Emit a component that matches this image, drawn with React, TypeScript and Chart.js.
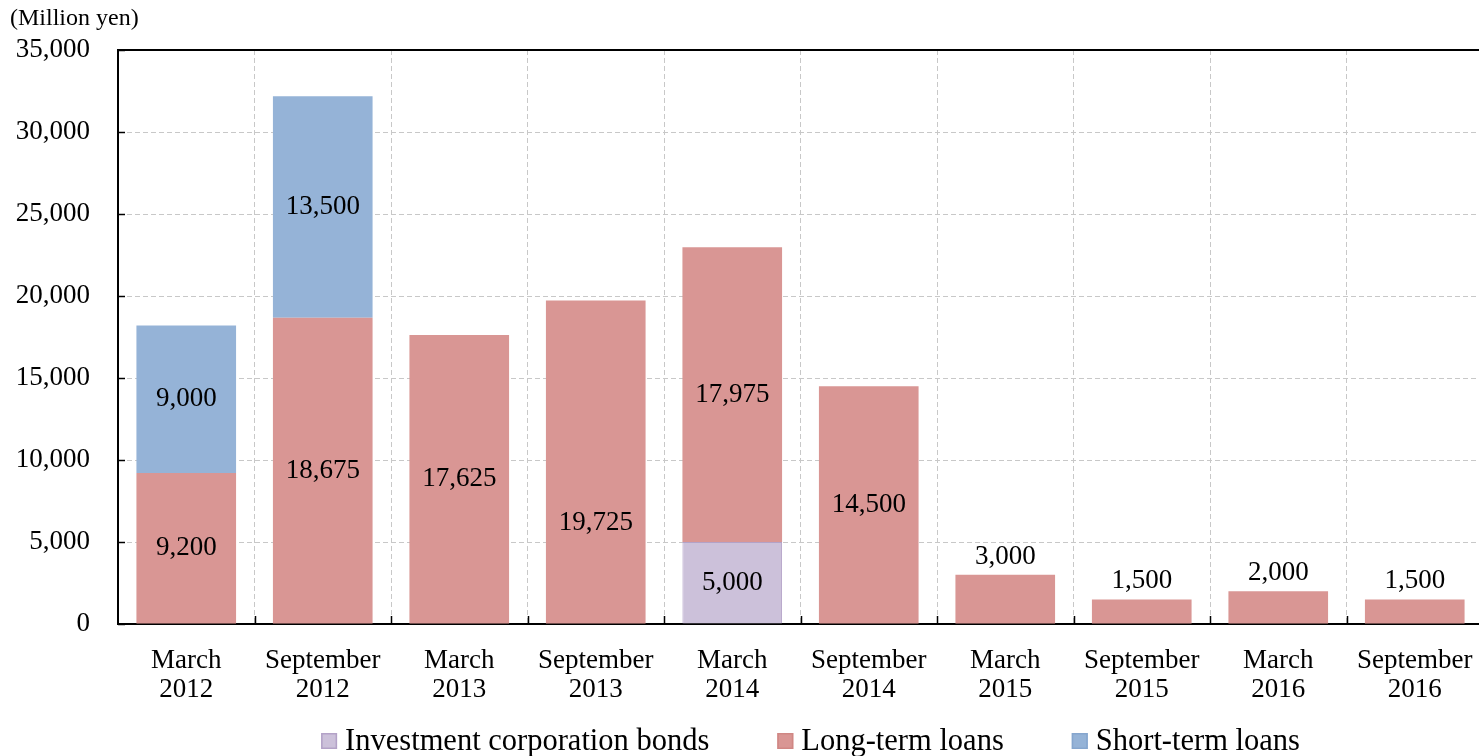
import React, { useEffect, useRef } from "react";
import { Chart, registerables } from "chart.js";

Chart.register(...registerables);

const categories: string[][] = [
  ["March", "2012"],
  ["September", "2012"],
  ["March", "2013"],
  ["September", "2013"],
  ["March", "2014"],
  ["September", "2014"],
  ["March", "2015"],
  ["September", "2015"],
  ["March", "2016"],
  ["September", "2016"],
];

const bonds: number[] = [0, 0, 0, 0, 5000, 0, 0, 0, 0, 0];
const longTermLoans: number[] = [9200, 18675, 17625, 19725, 17975, 14500, 3000, 1500, 2000, 1500];
const shortTermLoans: number[] = [9000, 13500, 0, 0, 0, 0, 0, 0, 0, 0];

const yTicks: number[] = [0, 5000, 10000, 15000, 20000, 25000, 30000, 35000];

const FONT = "'Liberation Serif', 'Times New Roman', serif";

const fmt = (v: number) => v.toLocaleString("en-US");

const decorPlugin = {
  id: "decor",
  afterDraw(chart: any) {
    const { ctx, chartArea } = chart;
    const x = chart.scales.x;
    const y = chart.scales.y;
    ctx.save();
    // top border
    ctx.strokeStyle = "#000";
    ctx.lineWidth = 2;
    ctx.beginPath();
    ctx.moveTo(chartArea.left, chartArea.top);
    ctx.lineTo(chartArea.right, chartArea.top);
    ctx.stroke();
    // inward ticks on y axis
    ctx.lineWidth = 1.5;
    yTicks.forEach((v) => {
      const py = Math.round(y.getPixelForValue(v)) + 0.5;
      ctx.beginPath();
      ctx.moveTo(chartArea.left, py);
      ctx.lineTo(chartArea.left + 7, py);
      ctx.stroke();
    });
    // inward ticks on x axis at category boundaries
    const n = categories.length;
    for (let i = 1; i < n; i++) {
      const px = Math.round((x.getPixelForValue(i - 1) + x.getPixelForValue(i)) / 2) + 0.5;
      ctx.beginPath();
      ctx.moveTo(px, chartArea.bottom);
      ctx.lineTo(px, chartArea.bottom - 8);
      ctx.stroke();
    }
    // unit label
    ctx.fillStyle = "#000";
    ctx.font = `24px ${FONT}`;
    ctx.textAlign = "left";
    ctx.textBaseline = "middle";
    ctx.fillText("(Million yen)", 10, chartArea.top - 31);

    // data labels
    ctx.font = `27px ${FONT}`;
    ctx.textAlign = "center";
    const offsets: Record<string, number> = chart.options.plugins.decor.offsets || {};
    chart.data.datasets.forEach((ds: any, di: number) => {
      const meta = chart.getDatasetMeta(di);
      meta.data.forEach((bar: any, i: number) => {
        const v = ds.data[i];
        if (!v) return;
        const h = Math.abs(bar.base - bar.y);
        let cy: number;
        if (h < 60) cy = bar.y - 18;
        else cy = (bar.y + bar.base) / 2;
        cy += offsets[`${di}-${i}`] || 0;
        ctx.fillText(fmt(v), bar.x, cy);
      });
    });

    // legend
    ctx.font = `30.5px ${FONT}`;
    ctx.textAlign = "left";
    const box = 16;
    const gapBoxText = 8;
    const gapItems = 68;
    const items = chart.data.datasets.map((ds: any) => ({
      label: ds.label as string,
      fill: ds.backgroundColor as string,
      stroke: ds.legendBorder as string,
      w: ctx.measureText(ds.label).width,
    }));
    const total =
      items.reduce((s: number, it: any) => s + box + gapBoxText + it.w, 0) + gapItems * (items.length - 1);
    let lx = (chartArea.left + chartArea.right) / 2 + 10 - total / 2;
    const ly = 741;
    items.forEach((it: any) => {
      ctx.fillStyle = it.fill;
      ctx.fillRect(lx, ly - box / 2, box, box);
      ctx.strokeStyle = it.stroke;
      ctx.lineWidth = 1.5;
      ctx.strokeRect(lx + 0.75, ly - box / 2 + 0.75, box - 1.5, box - 1.5);
      ctx.fillStyle = "#000";
      ctx.fillText(it.label, lx + box + gapBoxText, ly + 1);
      lx += box + gapBoxText + it.w + gapItems;
    });
    ctx.restore();
  },
};

export default function App() {
  const ref = useRef<HTMLCanvasElement | null>(null);
  useEffect(() => {
    if (!ref.current) return;
    const chart = new Chart(ref.current, {
      type: "bar",
      data: {
        labels: categories,
        datasets: [
          {
            label: "Investment corporation bonds",
            data: bonds,
            backgroundColor: "#CCC1DA",
            borderColor: "#B3A2C7",
            borderWidth: 1,
            legendBorder: "#B3A2C7",
          } as any,
          {
            label: "Long-term loans",
            data: longTermLoans,
            backgroundColor: "#D99694",
            borderColor: "#D99694",
            borderWidth: 0,
            legendBorder: "#D08784",
          } as any,
          {
            label: "Short-term loans",
            data: shortTermLoans,
            backgroundColor: "#95B3D7",
            borderColor: "#95B3D7",
            borderWidth: 0,
            legendBorder: "#86A6CE",
          } as any,
        ],
      },
      options: {
        responsive: false,
        animation: false,
        layout: { padding: { top: 50, right: 17, left: 0, bottom: 42 } },
        datasets: {
          bar: { barPercentage: 0.73, categoryPercentage: 1 },
        },
        scales: {
          x: {
            stacked: true,
            grid: {
              color: "#c8c8c8",
              lineWidth: 1,
              drawTicks: false,
              offset: true,
            },
            border: { color: "#000", width: 2, dash: [5, 3] },
            ticks: {
              color: "#000",
              font: { family: FONT, size: 27, lineHeight: 1.08 },
              padding: 22,
              maxRotation: 0,
              autoSkip: false,
            },
            afterFit: (s: any) => {
              s.height = 90;
            },
          },
          y: {
            stacked: true,
            min: 0,
            max: 35000,
            afterBuildTicks: (s: any) => {
              s.ticks = yTicks.map((v) => ({ value: v }));
            },
            grid: {
              color: "#c8c8c8",
              lineWidth: 1,
              drawTicks: false,
            },
            border: { color: "#000", width: 2, dash: [5, 3] },
            ticks: {
              color: "#000",
              font: { family: FONT, size: 27 },
              padding: 28,
              callback: (v: any) => fmt(Number(v)),
            },
            afterFit: (s: any) => {
              s.width = 118;
            },
          },
        },
        plugins: {
          legend: { display: false },
          tooltip: { enabled: false },
          decor: { offsets: { "1-3": 61 } },
        } as any,
      },
      plugins: [decorPlugin],
    });
    return () => chart.destroy();
  }, []);
  return (
    <div
      style={{
        position: "fixed",
        left: 0,
        top: 0,
        width: "100vw",
        height: "100vh",
        overflow: "hidden",
        background: "#fff",
      }}
    >
      <canvas ref={ref} width={1500} height={756} style={{ width: 1500, height: 756, display: "block" }} />
    </div>
  );
}
